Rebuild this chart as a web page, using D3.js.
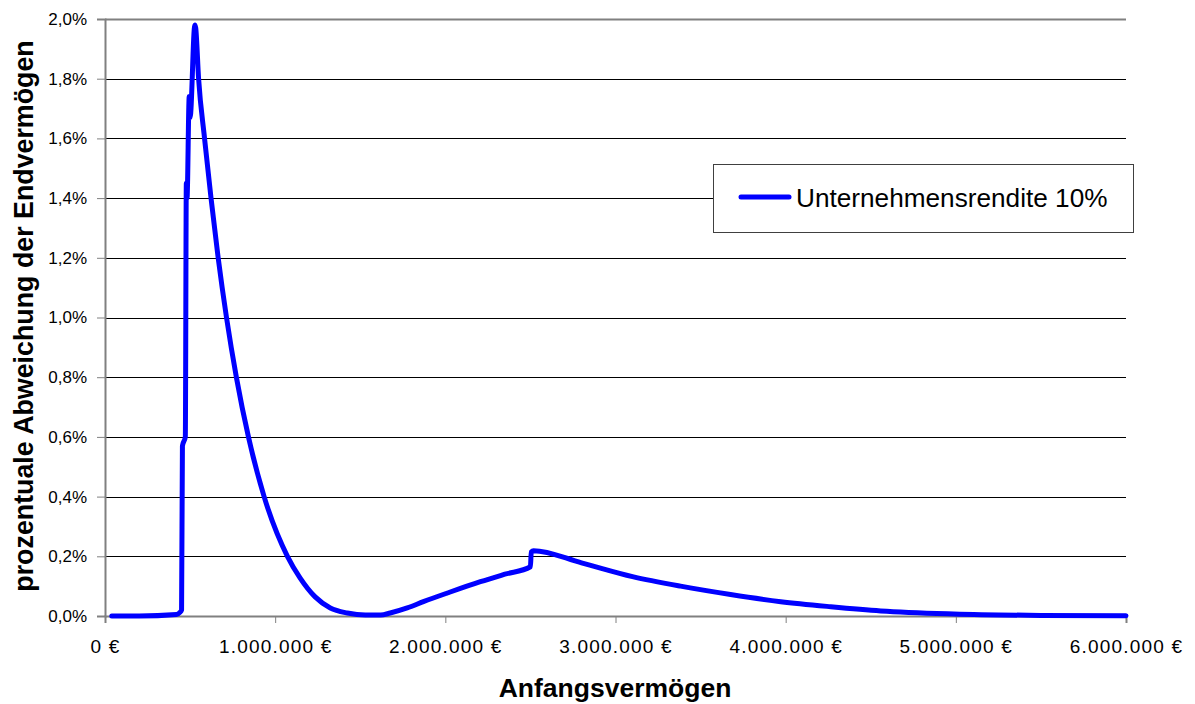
<!DOCTYPE html>
<html>
<head>
<meta charset="utf-8">
<script src="https://cdn.jsdelivr.net/npm/d3@7"></script>
<style>
  html, body { margin: 0; padding: 0; background: #fff; }
  svg { display: block; font-family: "Liberation Sans", Arial, sans-serif; }
</style>
</head>
<body>
<svg id="chart" width="1195" height="704"></svg>
<script>
// ---- data ----
const seriesName = "Unternehmensrendite 10%";
const startCapital = [ // Anfangsvermögen in €
  40000, 200000, 420000, 440000, 450000, 455000, 472000, 478000, 482000, 495000, 500000,
  528000, 533000, 550000, 585000, 623000, 665000, 714000, 772000, 843000, 935000,
  1072000, 1147000, 1235000, 1324000, 1424000, 1530000, 1620000, 1676000, 1776000, 1871000,
  2012000, 2206000, 2350000, 2500000, 2505000, 2518000, 2800000, 3100000, 3382000, 3676000,
  3971000, 4265000, 4559000, 4988000, 5500000, 6000000
];
const deviation = [ // prozentuale Abweichung in %
  0, 0, 0.005, 0.012, 0.02, 0.57, 0.60, 1.45, 1.40, 1.74, 1.67,
  1.98, 1.97, 1.80, 1.60, 1.40, 1.20, 1.00, 0.80, 0.60, 0.40,
  0.20, 0.127, 0.064, 0.027, 0.010, 0.003, 0.003, 0.010, 0.027, 0.048,
  0.077, 0.115, 0.140, 0.165, 0.215, 0.219, 0.178, 0.132, 0.100, 0.072,
  0.048, 0.031, 0.017, 0.007, 0.002, 0.0005
];
const yTicks = [0, 0.2, 0.4, 0.6, 0.8, 1.0, 1.2, 1.4, 1.6, 1.8, 2.0];
const xTicks = [0, 1000000, 2000000, 3000000, 4000000, 5000000, 6000000];
const xTitle = "Anfangsvermögen";
const yTitle = "prozentuale Abweichung der Endvermögen";

// ---- layout ----
const svg = d3.select("#chart");
const L = 105, R = 1126, T = 19, B = 616;
const x = d3.scaleLinear().domain([0, 6000000]).range([L, R]);
const y = d3.scaleLinear().domain([0, 2.0]).range([B, T]);

const deFmt = n => d3.format(",.0f")(n).replace(/,/g, ".");
const pctFmt = v => d3.format(".1f")(v).replace(".", ",") + "%";

// gridlines
svg.append("g").selectAll("line").data(yTicks.filter(d => d > 0)).join("line")
  .attr("x1", L).attr("x2", R)
  .attr("y1", d => Math.round(y(d)) + 0.5).attr("y2", d => Math.round(y(d)) + 0.5)
  .attr("stroke", d => d === 2.0 ? "#808080" : "#000")
  .attr("stroke-width", d => d === 2.0 ? 2 : 1);

// y axis
const yAxis = svg.append("g").attr("transform", `translate(${L},0)`)
  .call(d3.axisLeft(y).tickValues(yTicks).tickFormat(pctFmt).tickSize(8).tickPadding(10));
yAxis.select(".domain").attr("stroke", "#808080").attr("stroke-width", 2);
yAxis.selectAll(".tick line").attr("stroke", "#808080").attr("stroke-width", 1);
yAxis.selectAll(".tick text").attr("font-size", 17).attr("fill", "#000")
  .attr("font-family", "Liberation Sans, Arial, sans-serif");

// x axis
const xAxis = svg.append("g").attr("transform", `translate(0,${B})`)
  .call(d3.axisBottom(x).tickValues(xTicks).tickFormat(d => deFmt(d) + " €").tickSize(7).tickPadding(17));
xAxis.select(".domain").attr("stroke", "#808080").attr("stroke-width", 2);
xAxis.selectAll(".tick line").attr("stroke", "#808080").attr("stroke-width", 1);
xAxis.selectAll(".tick text").attr("font-size", 19).attr("fill", "#000")
  .attr("letter-spacing", "1.2px")
  .attr("font-family", "Liberation Sans, Arial, sans-serif");

// line
const pts = startCapital.map((v, i) => [v, deviation[i]]);
svg.append("path").datum(pts)
  .attr("fill", "none").attr("stroke", "#0000FF").attr("stroke-width", 5)
  .attr("stroke-linejoin", "round").attr("stroke-linecap", "round")
  .attr("d", d3.line().x(d => x(d[0])).y(d => y(d[1])).curve(d3.curveMonotoneX));

// titles
svg.append("text").attr("x", 615).attr("y", 697).attr("text-anchor", "middle")
  .attr("font-size", 26.5).attr("font-weight", "bold").text(xTitle);
svg.append("text").attr("transform", "translate(33,316) rotate(-90)").attr("text-anchor", "middle")
  .attr("font-size", 26.8).attr("font-weight", "bold").text(yTitle);

// legend
const lg = svg.append("g");
lg.append("rect").attr("x", 713.5).attr("y", 164.5).attr("width", 420).attr("height", 68)
  .attr("fill", "#fff").attr("stroke", "#404040").attr("stroke-width", 1);
lg.append("line").attr("x1", 741).attr("x2", 789).attr("y1", 197).attr("y2", 197)
  .attr("stroke", "#0000FF").attr("stroke-width", 5).attr("stroke-linecap", "round");
lg.append("text").attr("x", 796).attr("y", 207).attr("font-size", 26.2).attr("fill", "#000")
  .text(seriesName);
</script>
</body>
</html>
